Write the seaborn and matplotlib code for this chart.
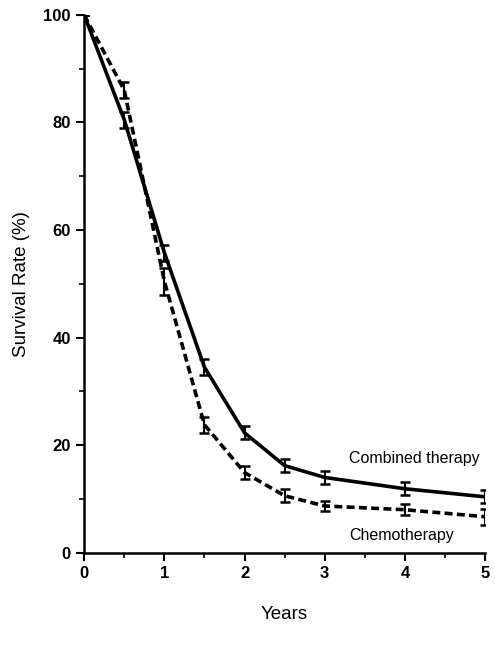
import matplotlib
matplotlib.use("Agg")
import matplotlib.pyplot as plt
import seaborn as sns
import pandas as pd
import numpy as np
from matplotlib.ticker import MultipleLocator

years = [0, 0.5, 1, 1.5, 2, 2.5, 3, 4, 5]
combined = [100, 80.5, 55.8, 34.5, 22.3, 16.2, 14.0, 11.9, 10.4]
combined_err = [0, 1.5, 1.5, 1.5, 1.2, 1.2, 1.2, 1.2, 1.2]
chemo = [100, 86.0, 50.5, 23.8, 14.9, 10.6, 8.7, 8.0, 6.7]
chemo_err = [0, 1.5, 2.5, 1.5, 1.2, 1.2, 1.0, 1.0, 1.5]

sns.set_style("ticks")
plt.rcParams['font.family'] = ['Liberation Sans', 'DejaVu Sans']
plt.rcParams['text.color'] = 'black'
plt.rcParams['axes.labelcolor'] = 'black'
plt.rcParams['xtick.color'] = 'black'
plt.rcParams['ytick.color'] = 'black'
plt.rcParams['axes.edgecolor'] = 'black'

df = pd.DataFrame({
    "Years": years * 2,
    "Survival": combined + chemo,
    "Group": ["Combined therapy"] * len(years) + ["Chemotherapy"] * len(years),
})

fig = plt.figure(figsize=(4.95, 6.45), dpi=100)
ax = fig.add_axes([0.17, 0.143, 0.81, 0.834])

sns.lineplot(data=df, x="Years", y="Survival", style="Group",
             style_order=["Combined therapy", "Chemotherapy"],
             dashes={"Combined therapy": "", "Chemotherapy": (2.2, 1.2)},
             color="black", linewidth=2.6, legend=False, ax=ax)
ax.errorbar(years, combined, yerr=combined_err, fmt="none", ecolor="black",
            elinewidth=1.5, capsize=3.5, capthick=1.8)
ax.errorbar(years, chemo, yerr=chemo_err, fmt="none", ecolor="black",
            elinewidth=1.5, capsize=3.5, capthick=1.8)

ax.set_xlim(0, 5)
ax.set_ylim(0, 100)
ax.xaxis.set_major_locator(MultipleLocator(1))
ax.xaxis.set_minor_locator(MultipleLocator(0.5))
ax.yaxis.set_major_locator(MultipleLocator(20))
ax.yaxis.set_minor_locator(MultipleLocator(10))
ax.tick_params(axis="both", which="major", length=6, width=1.5, labelsize=12, direction="out")
ax.tick_params(axis="both", which="minor", length=3.5, width=1.2, direction="out")
for s in ["left", "bottom"]:
    ax.spines[s].set_linewidth(1.8)
sns.despine(ax=ax)
for lab in ax.get_xticklabels() + ax.get_yticklabels():
    lab.set_fontweight("bold")

ax.set_xlabel("Years", fontsize=13.5, labelpad=18)
ax.set_ylabel("Survival Rate (%)", fontsize=13.5, labelpad=10)

ax.text(3.3, 17.5, "Combined therapy", fontsize=11.5, va="center", ha="left")
ax.text(3.3, 3.3, "Chemotherapy", fontsize=11.5, va="center", ha="left")

fig.savefig("out.png", dpi=100)
